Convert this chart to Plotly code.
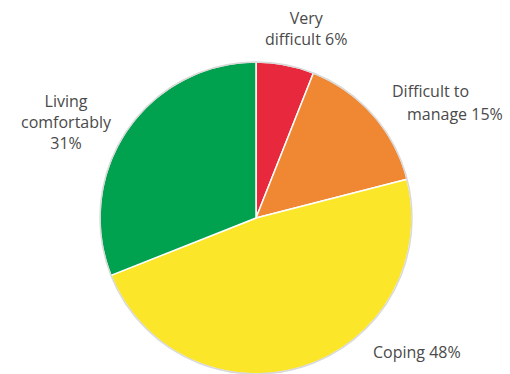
import plotly.graph_objects as go

labels = ["Very difficult", "Difficult to manage", "Coping", "Living comfortably"]
values = [6, 15, 48, 31]
colors = ["#E8293D", "#F08733", "#FCE62A", "#00A14F"]

W, H = 510, 374
cx, cy, r = 256, 218, 156

fig = go.Figure(go.Pie(
    labels=labels, values=values, sort=False, direction="clockwise", rotation=0,
    marker=dict(colors=colors, line=dict(color="white", width=1.5)),
    textinfo="none", hoverinfo="label+percent",
    domain=dict(x=[(cx - r) / W, (cx + r) / W], y=[1 - (cy + r) / H, 1 - (cy - r) / H]),
    showlegend=False,
))

fig.add_shape(type="circle", xref="paper", yref="paper",
              x0=(cx - r) / W, x1=(cx + r) / W, y0=1 - (cy + r) / H, y1=1 - (cy - r) / H,
              line=dict(color="#d9d9d9", width=1.5), layer="above")

font = dict(family="Open Sans, Noto Sans, sans-serif", size=16, color="#4a4a4a")

def ann(text, x, y, align="center"):
    fig.add_annotation(text=text, x=x / W, y=1 - y / H, xref="paper", yref="paper",
                       showarrow=False, font=font, align=align, xanchor="center", yanchor="middle")

ann(f"Very<br>difficult {values[0]}%", 306, 29)
ann("Difficult to", 430, 91)
ann(f"manage {values[1]}%", 455, 114)
ann(f"Coping {values[2]}%", 417, 352)
ann(f"Living<br>comfortably<br>{values[3]}%", 66, 122)

fig.update_layout(width=W, height=H, margin=dict(l=0, r=0, t=0, b=0),
                  paper_bgcolor="white", plot_bgcolor="white")

fig.write_html("out.html")
